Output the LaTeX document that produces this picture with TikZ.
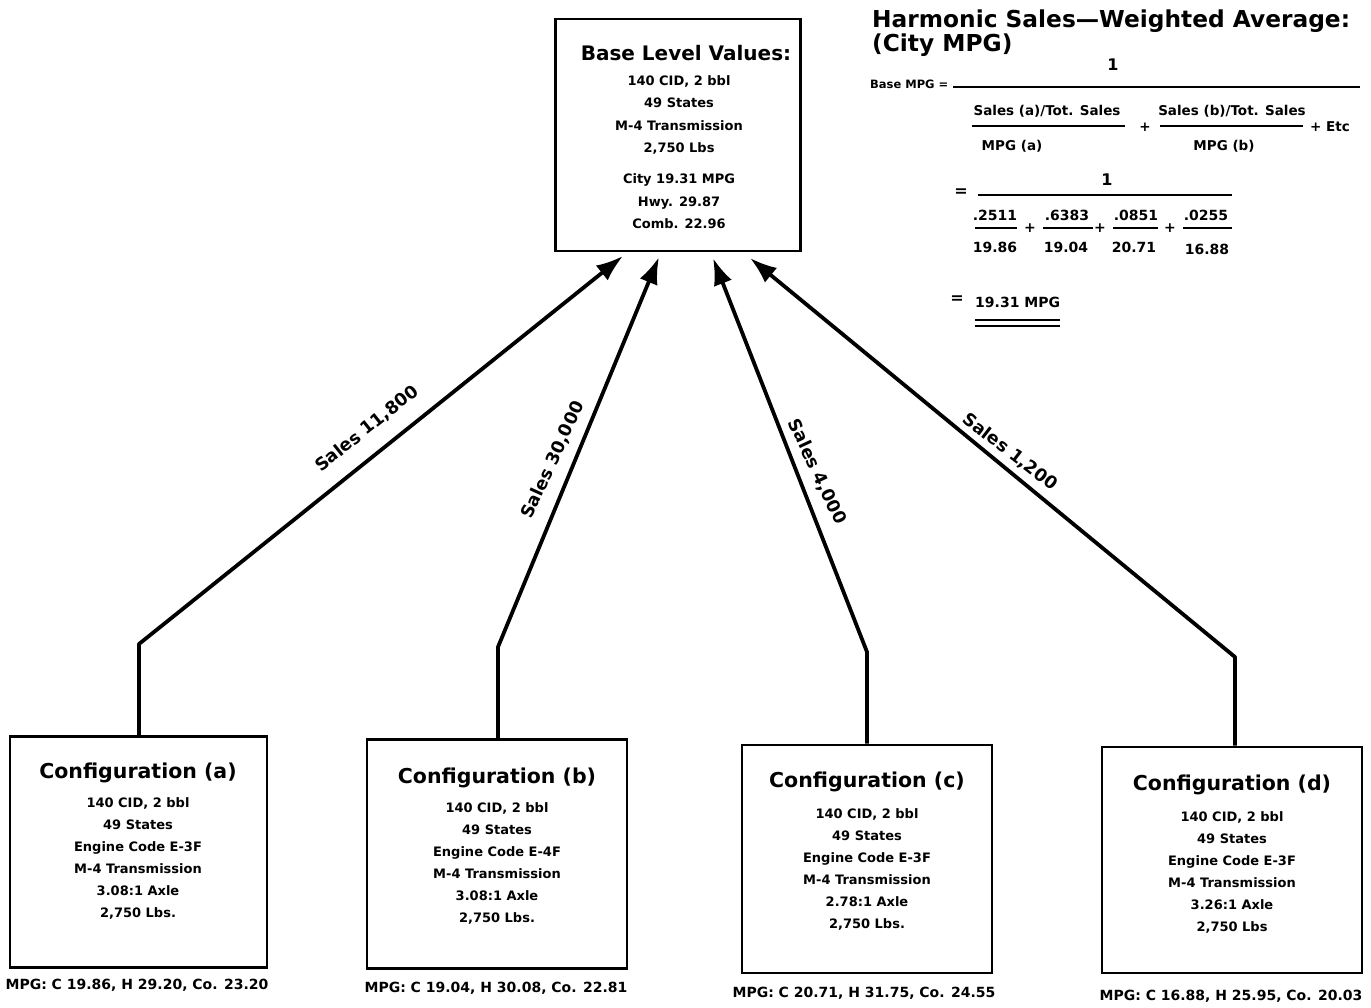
\documentclass[tikz,border=0pt]{standalone}
\usepackage{fontspec}
\setmainfont{DejaVu Sans}
\usetikzlibrary{arrows.meta}
\begin{document}
\begin{tikzpicture}[x=1pt,y=-1pt,
  boxnode/.style={draw,line width=2.8pt,inner sep=0pt},
  conn/.style={line width=3.8pt,line join=round,-{Latex[length=27pt,width=19pt]}},
  ttl/.style={font=\fontsize{20.5}{24}\selectfont\bfseries,inner sep=0pt},
  body/.style={font=\fontsize{13}{22}\selectfont\bfseries,align=center,inner sep=0pt,anchor=north},
  mpg/.style={font=\fontsize{14}{16}\selectfont\bfseries,inner sep=0pt},
  lbl/.style={font=\fontsize{17.5}{20}\selectfont\bfseries,inner sep=0pt},
  hdr/.style={font=\fontsize{23.3}{28}\selectfont\bfseries,inner sep=0pt,anchor=west},
  fm/.style={font=\fontsize{13.5}{15}\selectfont\bfseries,inner sep=0pt},
  num/.style={font=\fontsize{14}{16}\selectfont\bfseries,inner sep=0pt},
  big/.style={font=\fontsize{16}{18}\selectfont\bfseries,inner sep=0pt},
  bar/.style={line width=1.8pt}]
\useasboundingbox (0,0) rectangle (1371,1008);

% base box
\node[boxnode,minimum width=245pt,minimum height=232pt] (base) at (678,135) {};
\node[ttl,font=\fontsize{20}{24}\selectfont\bfseries] (basettl) at (686,53) {Base Level Values:};
\node[body,font=\fontsize{13}{22.6}\selectfont\bfseries] (basetxt) at (679,75) {140 CID, 2 bbl\\49 States\\M-4 Transmission\\2,750 Lbs\\[8pt]City 19.31 MPG\\Hwy. 29.87\\Comb. 22.96};

% configuration boxes
\node[boxnode,minimum width=257pt,minimum height=231pt] (ca) at (138.5,852) {};
\node[boxnode,minimum width=260pt,minimum height=229pt] (cb) at (497,854) {};
\node[boxnode,minimum width=250pt,minimum height=228pt] (cc) at (867,859) {};
\node[boxnode,minimum width=260pt,minimum height=226pt] (cd) at (1232,860) {};

\node[ttl] (cat) at (138,773) {Configuration (a)};
\node[body] (cax) at (138,797) {140 CID, 2 bbl\\49 States\\Engine Code E-3F\\M-4 Transmission\\3.08:1 Axle\\2,750 Lbs.};
\node[ttl] (cbt) at (497,778) {Configuration (b)};
\node[body] (cbx) at (497,802) {140 CID, 2 bbl\\49 States\\Engine Code E-4F\\M-4 Transmission\\3.08:1 Axle\\2,750 Lbs.};
\node[ttl] (cct) at (867,782) {Configuration (c)};
\node[body] (ccx) at (867,808) {140 CID, 2 bbl\\49 States\\Engine Code E-3F\\M-4 Transmission\\2.78:1 Axle\\2,750 Lbs.};
\node[ttl] (cdt) at (1232,785) {Configuration (d)};
\node[body] (cdx) at (1232,811) {140 CID, 2 bbl\\49 States\\Engine Code E-3F\\M-4 Transmission\\3.26:1 Axle\\2,750 Lbs};

\node[mpg] (ma) at (137,985) {MPG: C 19.86, H 29.20, Co. 23.20};
\node[mpg] (mb) at (496,988) {MPG: C 19.04, H 30.08, Co. 22.81};
\node[mpg] (mc) at (864,993) {MPG: C 20.71, H 31.75, Co. 24.55};
\node[mpg] (md) at (1231,996) {MPG: C 16.88, H 25.95, Co. 20.03};

% connectors
\coordinate (ka) at (139,644);
\coordinate (kb) at (498,647);
\coordinate (kc) at (867,652);
\coordinate (kd) at (1235,657);
\coordinate (ta) at (623,256);
\coordinate (tb) at (659,257);
\coordinate (tc) at (713,258);
\coordinate (td) at (750,258);
\draw[conn] (ca.north -| ka) -- (ka) -- (ta);
\draw[conn] (cb.north -| kb) -- (kb) -- (tb);
\draw[conn] (cc.north -| kc) -- (kc) -- (tc);
\draw[conn] (cd.north -| kd) -- (kd) -- (td);

\node[lbl,rotate=38.7] (la) at (367,429) {Sales 11,800};
\node[lbl,rotate=65.5] (lb) at (553,460) {Sales 30,000};
\node[lbl,rotate=-65] (lc) at (817,472) {Sales 4,000};
\node[lbl,rotate=-37.7] (ld) at (1010,452) {Sales 1,200};

% formula
\node[hdr] (h1) at (872,21) {Harmonic Sales---Weighted Average:};
\node[hdr] (h2) at (872,45) {(City MPG)};
\node[fm,anchor=west,font=\fontsize{11.5}{13}\selectfont\bfseries] (bm) at (870,84) {Base MPG =};
\node[big] (one1) at (1113,65) {1};
\draw[bar] (953,87) -- (1360,87);
\node[fm] (sa) at (1047,111) {Sales (a)/Tot. Sales};
\draw[bar] (972,126) -- (1125,126);
\node[fm] (pa) at (1012,146) {MPG (a)};
\node[fm] (p1) at (1145,127) {+};
\node[fm] (sb) at (1232,111) {Sales (b)/Tot. Sales};
\draw[bar] (1160,126) -- (1303,126);
\node[fm] (pb) at (1224,146) {MPG (b)};
\node[fm,anchor=west] (etc) at (1310,127) {+ Etc};

\node[big] (eq2) at (961,193) {=};
\node[big] (one2) at (1107,180) {1};
\draw[bar] (978,195) -- (1232,195);
\node[num] (n1) at (995,215) {.2511};
\draw[bar] (975,228) -- (1017,228);
\node[num] (d1) at (995,247) {19.86};
\node[num] (q1) at (1030,228) {+};
\node[num] (n2) at (1067,215) {.6383};
\draw[bar] (1043,228) -- (1093,228);
\node[num] (d2) at (1066,247) {19.04};
\node[num] (q2) at (1100,228) {+};
\node[num] (n3) at (1136,215) {.0851};
\draw[bar] (1113,228) -- (1158,228);
\node[num] (d3) at (1134,247) {20.71};
\node[num] (q3) at (1170,228) {+};
\node[num] (n4) at (1206,215) {.0255};
\draw[bar] (1183,228) -- (1232,228);
\node[num] (d4) at (1207,249) {16.88};

\node[big] (eq3) at (957,300) {=};
\node[num,anchor=west] (res) at (975,302) {19.31 MPG};
\draw[bar] (975,320) -- (1060,320);
\draw[bar] (975,326) -- (1060,326);
\end{tikzpicture}
\end{document}
